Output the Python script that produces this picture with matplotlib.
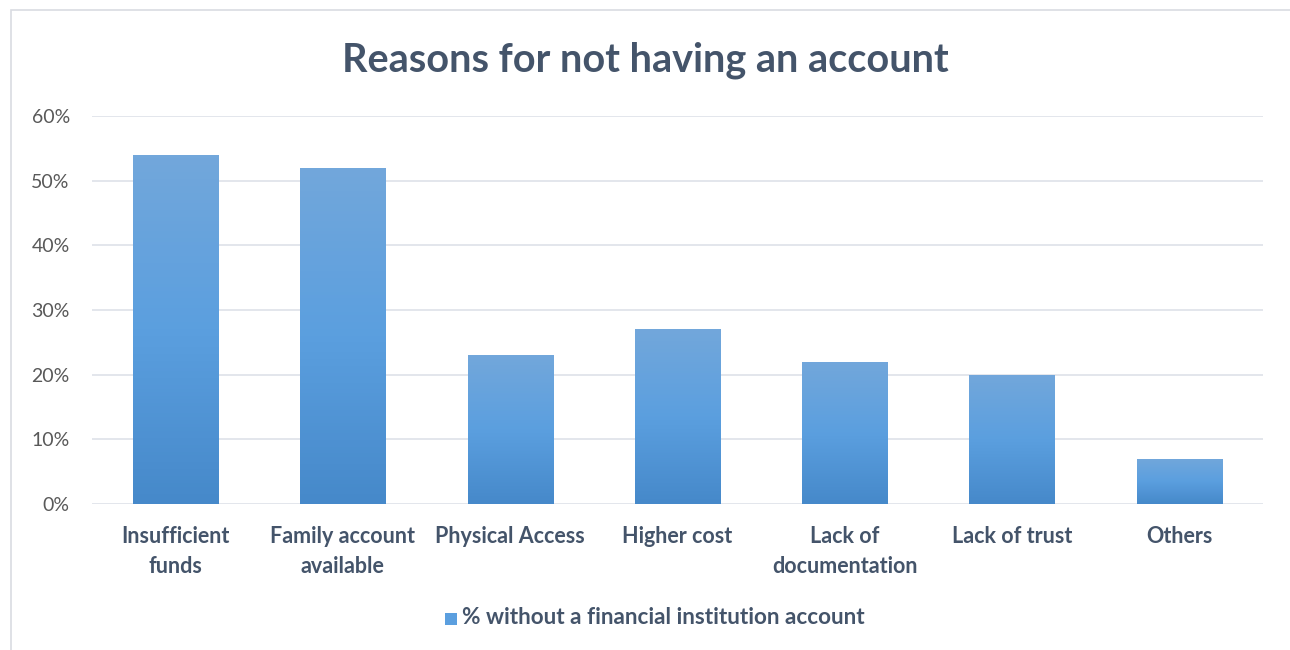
import numpy as np
import matplotlib.pyplot as plt
from matplotlib.patches import Rectangle
from matplotlib.colors import LinearSegmentedColormap
from matplotlib.ticker import PercentFormatter

# chart data
categories = ['Insufficient\nfunds', 'Family account\navailable', 'Physical Access',
              'Higher cost', 'Lack of\ndocumentation', 'Lack of trust', 'Others']
values = [54, 52, 23, 27, 22, 20, 7]
series_name = '% without a financial institution account'
yticks = [0, 10, 20, 30, 40, 50, 60]

plt.rcParams['font.family'] = ['Lato', 'DejaVu Sans']
text_col = '#44546A'
grid_col = '#E1E4EA'
grad = LinearSegmentedColormap.from_list('bar', ['#4689CA', '#5B9FDF', '#72A7DB'])

fig = plt.figure(figsize=(12.9, 6.5), dpi=100)
# light outer frame of the chart area
fig.add_artist(Rectangle((11/1290, -0.1), 1.2, 1 - 10/650 + 0.1, transform=fig.transFigure,
                         fill=False, edgecolor='#D9DCE2', linewidth=1.2))

ax = fig.add_axes([0.0713, 0.2246, 0.9077, 0.5969])
x = np.arange(len(categories))
bars = ax.bar(x, values, width=0.51, color='#5B9FDF', zorder=2)

# vertical gradient fill on each bar
for b in bars:
    x0, y0 = b.get_x(), b.get_y()
    w, h = b.get_width(), b.get_height()
    im = ax.imshow(np.linspace(0, 1, 100).reshape(-1, 1), cmap=grad, aspect='auto',
                   extent=[x0, x0 + w, y0, y0 + h], origin='lower', zorder=3)
    im.set_clip_path(b)

ax.set_xlim(-0.5, len(categories) - 0.5)
ax.set_ylim(0, 60)
ax.set_yticks(yticks)
ax.yaxis.set_major_formatter(PercentFormatter(decimals=0))
ax.set_xticks(x)
ax.set_xticklabels(categories, fontsize=15.5, fontweight='bold', color=text_col, linespacing=1.5)
ax.tick_params(axis='y', labelsize=14, colors='#595959', length=0, pad=16)
ax.tick_params(axis='x', length=0, pad=16)
ax.grid(axis='y', color=grid_col, linewidth=1.3, zorder=0)
for s in ax.spines.values():
    s.set_visible(False)

fig.text(0.5, 0.908, 'Reasons for not having an account', ha='center', va='center',
         fontsize=28.5, fontweight='bold', color=text_col)

# legend
fig.add_artist(Rectangle((445/1290, 1 - 625/650), 12/1290, 12/650, transform=fig.transFigure,
                         facecolor='#5B9FDF', edgecolor='none'))
fig.text(462/1290, 1 - 618/650, series_name, ha='left', va='center',
         fontsize=16.2, fontweight='bold', color=text_col)

fig.savefig('out.png', dpi=100, facecolor='white')
